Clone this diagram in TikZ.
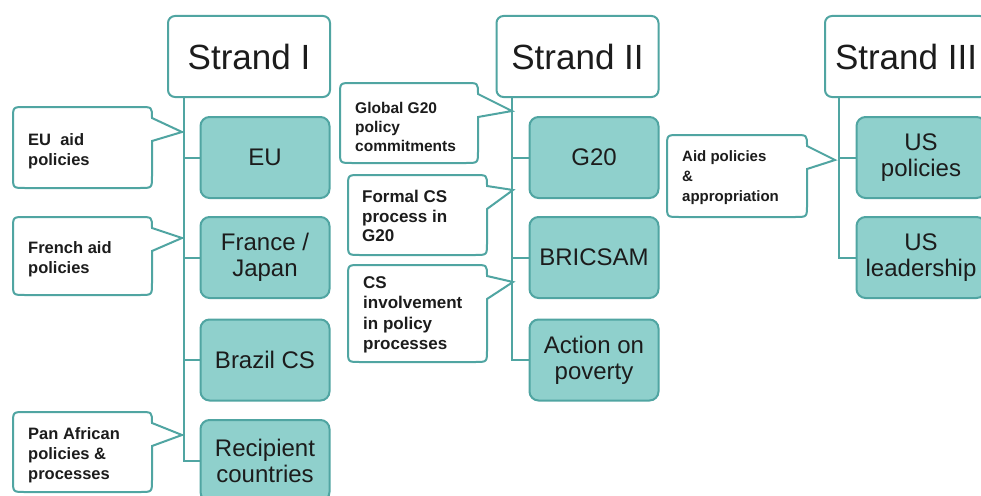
\documentclass[tikz,border=0pt]{standalone}
\usepackage{fontspec}
\setmainfont{Liberation Sans}
\definecolor{tealline}{RGB}{80,165,162}
\definecolor{tealfill}{RGB}{143,208,204}
\definecolor{ink}{RGB}{28,28,28}
\pgfdeclarelayer{paper}
\pgfdeclarelayer{behind}
\pgfsetlayers{paper,behind,main}

\tikzset{
  header/.style={draw=tealline, fill=white, line width=2pt, rounded corners=7pt,
    minimum width=162pt, minimum height=81pt, inner sep=0pt, text=ink,
    font=\fontsize{35}{40}\selectfont},
  item/.style={draw=tealline, fill=tealfill, line width=2pt, rounded corners=9pt,
    minimum width=129pt, minimum height=81pt, inner sep=0pt, align=center, text=ink,
    font=\fontsize{24}{26}\selectfont},
  stem/.style={draw=tealline, line width=2pt},
  bubble/.style={draw=tealline, fill=white, line width=2pt, line join=miter},
  note/.style={anchor=west, align=left, inner sep=0pt, text=ink,
    font=\bfseries\fontsize{16.5}{20}\selectfont},
}

% speech bubble: left, top, right, bottom, tip x, tip y
\newcommand\speechbubble[6]{%
  \draw[bubble] ({#1+12},#2) -- ({#3-12},#2) .. controls (#3,#2) .. (#3,{#2+11})
    -- (#5,#6) -- (#3,{#2+34}) -- (#3,{#4-12}) .. controls (#3,#4) .. ({#3-12},#4)
    -- ({#1+12},#4) .. controls (#1,#4) .. (#1,{#4-12})
    -- (#1,{#2+12}) .. controls (#1,#2) .. ({#1+12},#2) -- cycle;}

\begin{document}
\begin{tikzpicture}[x=1pt,y=-1pt]
\clip (0,0) rectangle (981,495);
\begin{pgfonlayer}{paper}
\fill[white] (0,0) rectangle (981,495);
\end{pgfonlayer}

% ---- Strand I ----
\node[header] (s1) at (249,56.5) {Strand I};
\coordinate (r1) at ([xshift=17pt]s1.south west);
\node[item] (eu)  at (265,157.5) {EU};
\node[item] (fj)  at (265,257.5) {France /\\Japan};
\node[item] (br)  at (265,360)   {Brazil CS};
\node[item] (rc)  at (265,460.5) {Recipient\\countries};
\begin{pgfonlayer}{behind}
\foreach \n in {eu,fj,br,rc} \draw[stem] (r1) |- (\n.west);
\end{pgfonlayer}

\speechbubble{13}{107}{152}{188}{182}{132}
\node[note] (c1) at (28,151) {EU\ \ aid\\policies};
\speechbubble{13}{217}{152}{295}{182}{238}
\node[note] (c2) at (28,259) {French aid\\policies};
\speechbubble{13}{412}{152}{492}{182}{435}
\node[note] (c3) at (28,455) {Pan African\\policies \&\\processes};

% ---- Strand II ----
\node[header] (s2) at (577.5,56.5) {Strand II};
\coordinate (r2) at ([xshift=16pt]s2.south west);
\node[item] (g20) at (594,157.5) {G20};
\node[item] (bri) at (594,257.5) {BRICSAM};
\node[item] (act) at (594,360)   {Action on\\poverty};
\begin{pgfonlayer}{behind}
\foreach \n in {g20,bri,act} \draw[stem] (r2) |- (\n.west);
\end{pgfonlayer}

\speechbubble{340}{83}{478}{163}{512}{111}
\node[note, font=\bfseries\fontsize{15.5}{19}\selectfont] (c4) at (355,127) {Global G20\\policy\\commitments};
\speechbubble{348}{175}{487}{255}{513}{190}
\node[note, font=\bfseries\fontsize{17}{19.5}\selectfont] (c5) at (362,216) {Formal CS\\process in\\G20};
\speechbubble{348}{265}{487}{362}{513}{282}
\node[note, font=\bfseries\fontsize{17}{20.5}\selectfont] (c6) at (363,315) {CS\\involvement\\in policy\\processes};

% ---- Strand III ----
\node[header] (s3) at (906,56.5) {Strand III};
\coordinate (r3) at ([xshift=15pt]s3.south west);
\node[item] (usp) at (921,157.5) {US\\policies};
\node[item] (usl) at (921,257.5) {US\\leadership};
\begin{pgfonlayer}{behind}
\foreach \n in {usp,usl} \draw[stem] (r3) |- (\n.west);
\end{pgfonlayer}

\speechbubble{667}{135}{807}{217}{835}{160}
\node[note, font=\bfseries\fontsize{15}{20}\selectfont] (c7) at (682,178) {Aid policies\\\&\\appropriation};
\end{tikzpicture}
\end{document}
